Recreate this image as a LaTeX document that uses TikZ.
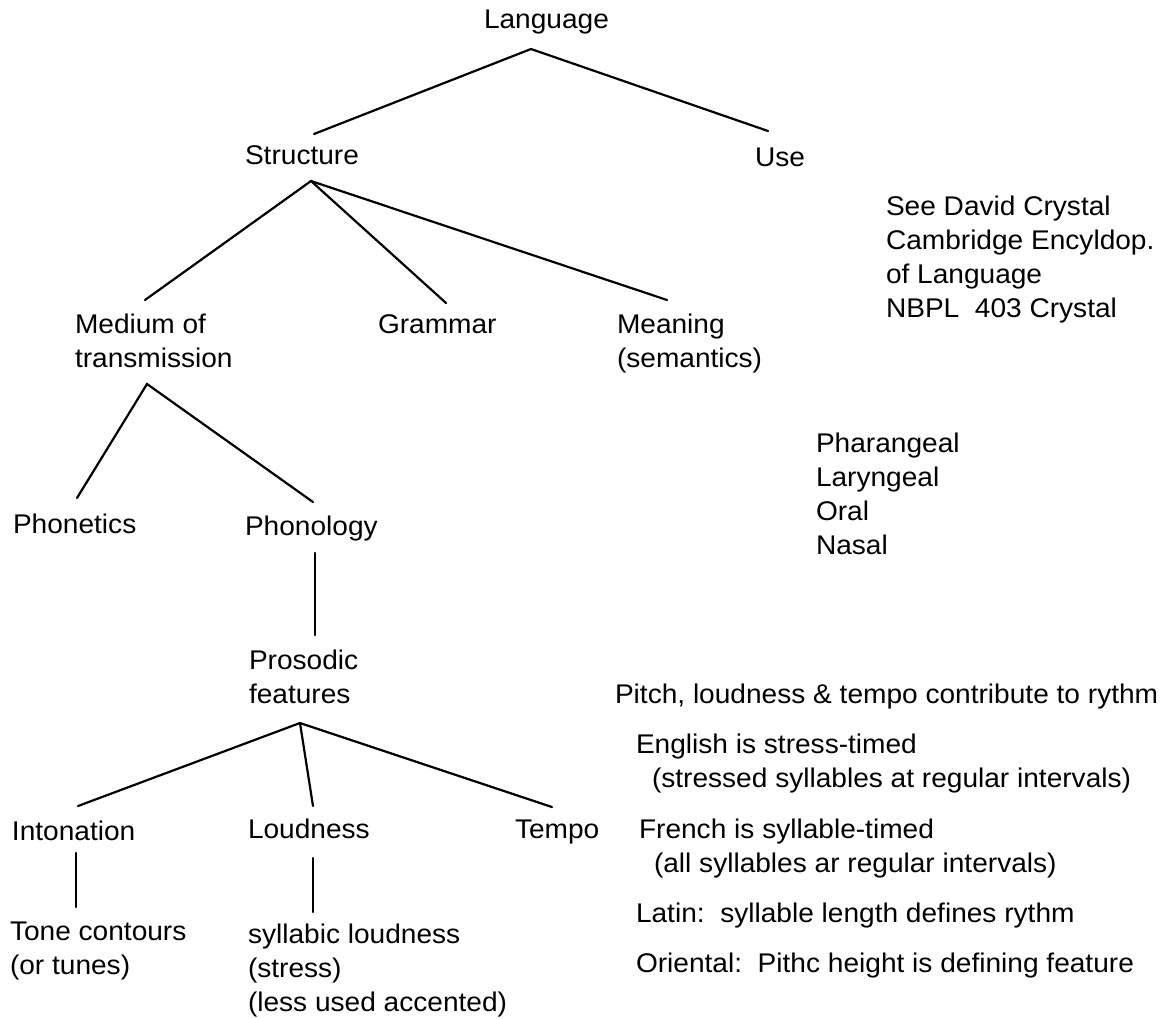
\documentclass[tikz,border=0pt]{standalone}
\usepackage{fontspec}
\setmainfont{Liberation Sans}[FakeStretch=1.04]
\begin{document}
\begin{tikzpicture}[x=1pt,y=-1pt,
  lbl/.style={inner sep=0pt, outer sep=0pt, font=\fontsize{27}{34}\selectfont, align=left, anchor=base west},
  link/.style={line width=2.2pt, line cap=round}]
\useasboundingbox[fill=white] (0,0) rectangle (1169,1018);
% text nodes (anchor: baseline of the last line)
\node[lbl] (lang) at (484,28) {Language};
\node[lbl] (struct) at (245,164) {Structure};
\node[lbl] (use) at (755,166) {Use};
\node[lbl] (medium) at (75,367) {Medium of\\transmission};
\node[lbl] (grammar) at (378,333) {Grammar};
\node[lbl] (meaning) at (617,367) {Meaning\\(semantics)};
\node[lbl] (ref) at (886,317) {See David Crystal\\Cambridge Encyldop.\\of Language\\NBPL\ \ 403 Crystal};
\node[lbl] (phonetics) at (13,533) {Phonetics};
\node[lbl] (phonology) at (245,535) {Phonology};
\node[lbl] (places) at (816,554) {Pharangeal\\Laryngeal\\Oral\\Nasal};
\node[lbl] (prosodic) at (249,703) {Prosodic\\features};
\node[lbl] (pitch) at (615,703) {Pitch, loudness \& tempo contribute to rythm};
\node[lbl] (intonation) at (12,840) {Intonation};
\node[lbl] (loudness) at (248,838) {Loudness};
\node[lbl] (tempo) at (515,838) {Tempo};
\node[lbl] (tone) at (10,974) {Tone contours\\(or tunes)};
\node[lbl] (syll) at (248,1011) {syllabic loudness\\(stress)\\(less used accented)};
\node[lbl] (english) at (636,787) {English is stress-timed\\\hspace*{16pt}(stressed syllables at regular intervals)};
\node[lbl] (french) at (639,872) {French is syllable-timed\\\hspace*{15pt}(all syllables ar regular intervals)};
\node[lbl] (latin) at (636,922) {Latin:\ \ syllable length defines rythm};
\node[lbl] (oriental) at (636,972) {Oriental:\ \ Pithc height is defining feature};
% connector end points
\coordinate (langB) at (531,49);
\coordinate (structT) at (314,134);
\coordinate (useT) at (768,131);
\coordinate (structB) at (311,181);
\coordinate (mediumT) at (145,300);
\coordinate (grammarT) at (446,303);
\coordinate (meaningT) at (667,300);
\coordinate (mediumB) at (147,384);
\coordinate (phoneticsT) at (77,498);
\coordinate (phonologyT) at (313,502);
\coordinate (phonologyB) at (315,553);
\coordinate (prosodicT) at (315,635);
\coordinate (prosodicB) at (300,723);
\coordinate (intonationT) at (78,806);
\coordinate (loudnessT) at (313,806);
\coordinate (tempoT) at (552,807);
\coordinate (intonationB) at (76,853);
\coordinate (toneT) at (76,907);
\coordinate (loudnessB) at (313,858);
\coordinate (syllT) at (313,912);
% connectors
\draw[link] (structT) -- (langB) -- (useT);
\draw[link] (mediumT) -- (structB) -- (grammarT);
\draw[link] (structB) -- (meaningT);
\draw[link] (phoneticsT) -- (mediumB) -- (phonologyT);
\draw[link] (phonologyB) -- (prosodicT);
\draw[link] (intonationT) -- (prosodicB) -- (tempoT);
\draw[link] (prosodicB) -- (loudnessT);
\draw[link] (intonationB) -- (toneT);
\draw[link] (loudnessB) -- (syllT);
\end{tikzpicture}
\end{document}
